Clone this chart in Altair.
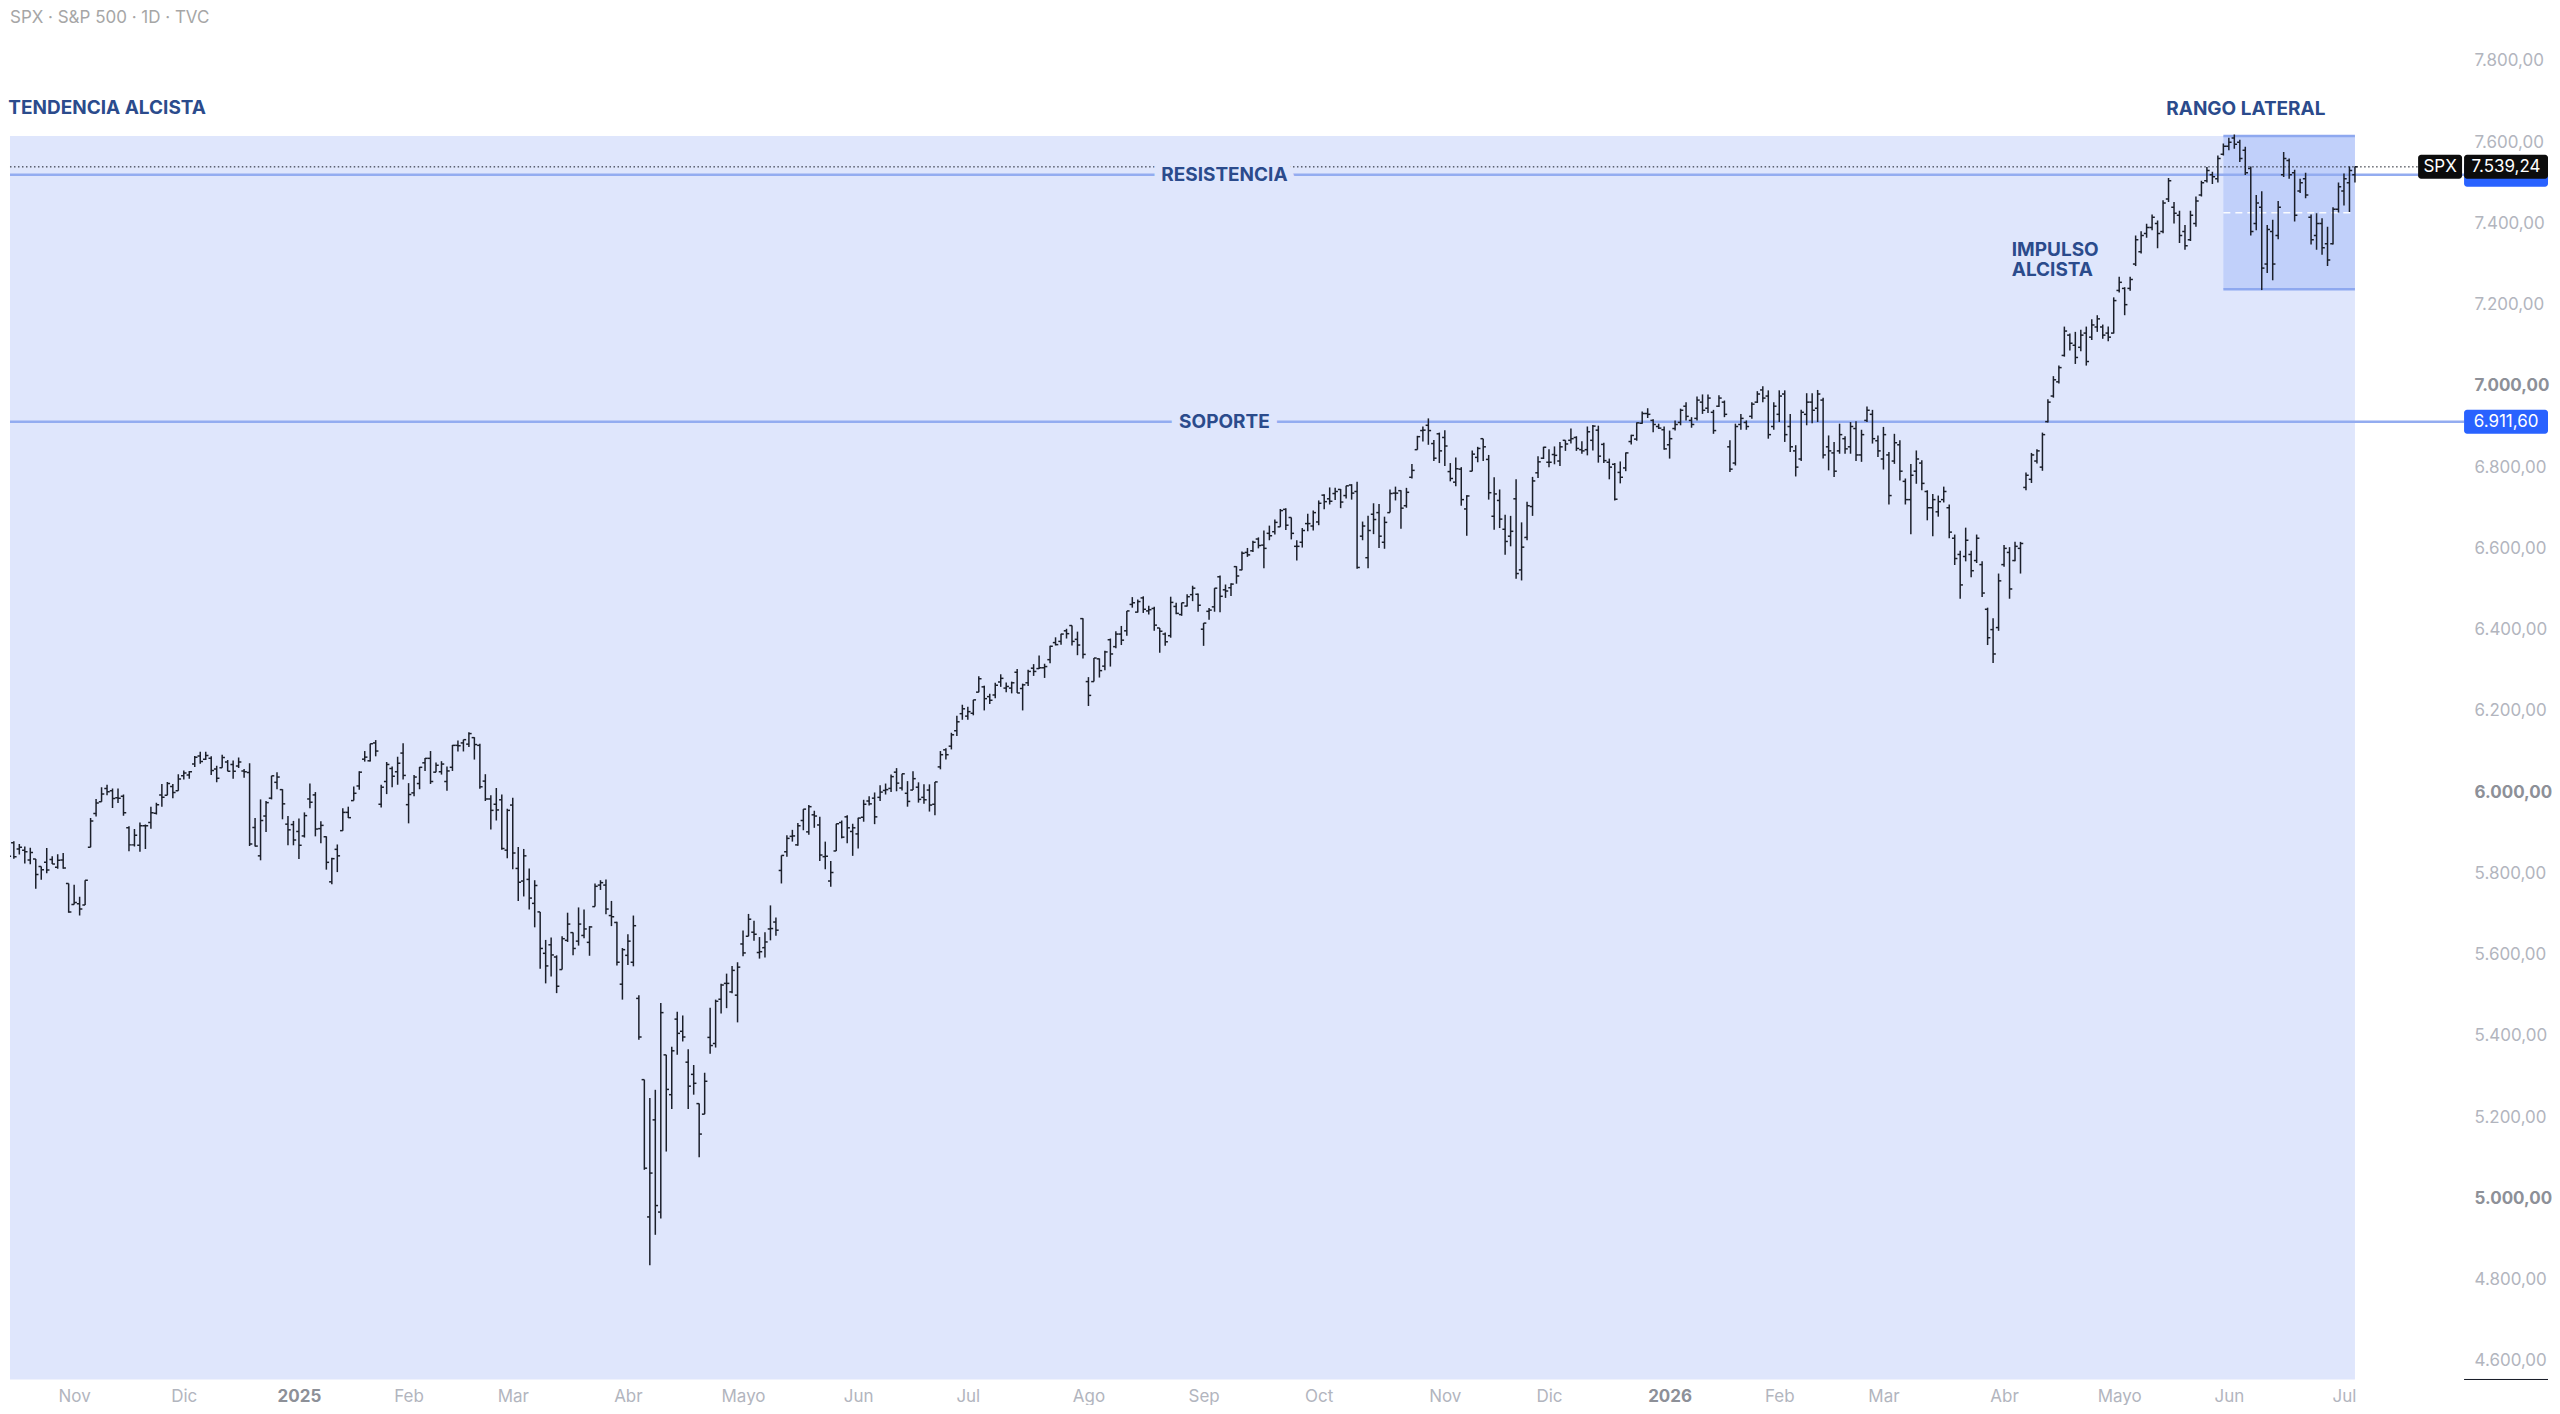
import altair as alt
import pandas as pd

# ---------------- data (daily OHLC, SPX) ----------------
opens = [
    5866, 5816, 5875, 5860, 5857, 5833, 5835, 5817, 5827, 5834, 5815, 5833, 5775,
    5723, 5725, 5722, 5864, 5947, 5976, 6009, 6003, 5986, 5990, 5912, 5870, 5869, 5917, 5925, 5948, 5993, 5992, 6014, 6003,
    6040, 6042, 6069, 6089, 6081, 6083, 6057, 6060, 6074, 6068, 6064, 6052, 6048, 5913, 5843, 5941, 5985, 6024, 6006, 5921, 5920,
    5903, 5892, 5983, 5993, 5910, 5890, 5779, 5859, 5905, 5950, 5979, 6015, 6081, 6077, 6121, 5970, 6026, 6058, 6050, 6096,
    5969, 5998, 6021, 6072, 6083, 6049, 6050, 6026, 6061, 6115, 6121, 6118, 6134, 6115, 6027, 5983, 5970, 5981, 5857,
    5968, 5812, 5781, 5785, 5726, 5705, 5603, 5624, 5594, 5563, 5635, 5654, 5633, 5647, 5630, 5718, 5771, 5771, 5696, 5679, 5527,
    5598, 5581, 5492, 5292, 4954, 5193, 4966, 5353, 5255, 5441, 5411, 5335, 5305, 5233, 5207, 5396, 5381, 5490, 5529, 5508, 5500,
    5626, 5645, 5655, 5605, 5617, 5663, 5680, 5807, 5853, 5891, 5870, 5930, 5902, 5944, 5919, 5841, 5781, 5855, 5925, 5939, 5903,
    5897, 5938, 5978, 5985, 5987, 6004, 6009, 6049, 6010, 5997, 6005, 6012, 5987, 6005, 5970, 6062, 6104, 6113, 6151, 6193,
    6187, 6194, 6246, 6259, 6235, 6239, 6271, 6256, 6256, 6295, 6255, 6269, 6305, 6304, 6306, 6326, 6368, 6371, 6397, 6410, 6376, 6427,
    6272, 6272, 6328, 6310, 6375, 6358, 6389, 6397, 6462, 6443, 6478, 6446, 6452, 6404, 6389, 6385, 6457, 6437, 6458, 6486, 6487,
    6401, 6445, 6456, 6530, 6498, 6503, 6555, 6547, 6590, 6594, 6623, 6608, 6637, 6641, 6653, 6696, 6676, 6605, 6615, 6661, 6655,
    6665, 6731, 6722, 6735, 6745, 6730, 6756, 6740, 6630, 6577, 6684, 6688, 6615, 6688, 6736, 6742, 6705, 6775, 6843, 6890, 6903, 6858, 6882,
    6873, 6789, 6763, 6795, 6697, 6790, 6824, 6870, 6819, 6679, 6718, 6647, 6630, 6722, 6547, 6627, 6703, 6786, 6822,
    6812, 6831, 6815, 6866, 6866, 6873, 6843, 6843, 6866, 6891, 6856, 6812, 6807, 6787, 6798, 6863, 6869, 6908, 6932, 6915, 6900, 6892,
    6855, 6895, 6910, 6950, 6915, 6920, 6960, 6945, 6935, 6950, 6960, 6850, 6810, 6905, 6910, 6925, 6960, 6990, 6975, 6900,
    6930, 6980, 6900, 6840, 6820, 6930, 6960, 6945, 6965, 6850, 6835, 6840, 6870, 6850, 6895, 6830, 6915, 6930, 6865,
    6820, 6830, 6815, 6855, 6765, 6720, 6790, 6810, 6740, 6700, 6690, 6720, 6700, 6625, 6585, 6580, 6585, 6570, 6560, 6450, 6400, 6405,
    6560, 6590, 6570, 6600, 6750, 6770, 6815, 6800, 6912, 6975, 7010, 7075, 7125, 7100, 7095, 7130, 7120, 7145, 7145, 7130, 7130,
    7235, 7240, 7240, 7300, 7330, 7375, 7390, 7400, 7380, 7460, 7440, 7420, 7380, 7360, 7400, 7470, 7505, 7520, 7510, 7570,
    7590, 7610, 7600, 7580, 7535, 7400, 7440, 7300, 7380, 7370, 7520, 7555, 7525, 7480, 7510, 7415, 7370, 7400, 7350, 7350, 7435,
    7480, 7500, 7520,
]
highs = [
    5871, 5846, 5879, 5872, 5866, 5863, 5835, 5817, 5862, 5842, 5847, 5850, 5775,
    5772, 5742, 5783, 5936, 5983, 6012, 6018, 6009, 6009, 5994, 5916, 5909, 5925, 5920, 5964, 5974, 6020, 6025, 6020, 6044,
    6053, 6052, 6089, 6099, 6099, 6088, 6065, 6092, 6079, 6078, 6085, 6057, 6071, 5936, 5982, 5978, 6040, 6049, 6007, 5941, 5929,
    5935, 5950, 6021, 6000, 5928, 5891, 5838, 5871, 5960, 5964, 6014, 6051, 6101, 6119, 6128, 6018, 6074, 6063, 6087, 6120,
    6022, 6042, 6062, 6084, 6101, 6073, 6076, 6063, 6116, 6127, 6129, 6147, 6135, 6119, 6044, 5992, 6010, 5994, 5959,
    5986, 5865, 5860, 5812, 5783, 5705, 5636, 5642, 5598, 5645, 5703, 5654, 5716, 5711, 5670, 5775, 5783, 5785, 5732, 5681, 5616,
    5650, 5696, 5500, 5292, 5247, 5267, 5481, 5353, 5373, 5459, 5450, 5367, 5328, 5233, 5309, 5469, 5489, 5528, 5553, 5572, 5581,
    5659, 5700, 5683, 5643, 5655, 5721, 5691, 5844, 5894, 5907, 5924, 5958, 5968, 5954, 5939, 5878, 5830, 5922, 5930, 5943, 5922,
    5937, 5981, 5990, 5999, 6017, 6021, 6043, 6059, 6045, 6027, 6051, 6024, 6019, 6019, 6025, 6101, 6108, 6146, 6188, 6215,
    6210, 6227, 6285, 6262, 6242, 6269, 6290, 6270, 6272, 6303, 6267, 6301, 6315, 6336, 6316, 6360, 6381, 6390, 6402, 6410, 6395, 6428,
    6283, 6330, 6329, 6348, 6378, 6396, 6409, 6446, 6480, 6474, 6482, 6459, 6456, 6404, 6393, 6481, 6466, 6466, 6487, 6508, 6489,
    6416, 6453, 6502, 6533, 6511, 6514, 6556, 6592, 6601, 6619, 6627, 6644, 6656, 6671, 6697, 6699, 6676, 6620, 6650, 6685, 6693,
    6718, 6733, 6750, 6749, 6746, 6754, 6758, 6764, 6666, 6680, 6711, 6709, 6678, 6745, 6752, 6743, 6749, 6808, 6877, 6900, 6920, 6867, 6885,
    6891, 6810, 6824, 6800, 6731, 6841, 6850, 6870, 6830, 6775, 6745, 6683, 6680, 6770, 6664, 6715, 6776, 6827, 6850,
    6844, 6851, 6862, 6866, 6895, 6876, 6864, 6900, 6904, 6902, 6860, 6821, 6810, 6814, 6836, 6880, 6910, 6937, 6945, 6918, 6907, 6900,
    6890, 6915, 6944, 6960, 6923, 6974, 6979, 6979, 6941, 6977, 6964, 6866, 6907, 6931, 6915, 6960, 6987, 6999, 6989, 6960,
    6989, 6989, 6931, 6854, 6941, 6982, 6982, 6990, 6971, 6878, 6862, 6907, 6876, 6911, 6913, 6892, 6949, 6941, 6878,
    6899, 6837, 6882, 6866, 6772, 6808, 6841, 6817, 6743, 6734, 6730, 6752, 6708, 6634, 6594, 6651, 6594, 6634, 6568, 6454, 6428, 6538,
    6608, 6603, 6616, 6616, 6787, 6835, 6844, 6885, 6967, 7024, 7050, 7146, 7129, 7133, 7138, 7146, 7164, 7174, 7151, 7146, 7218,
    7269, 7243, 7269, 7370, 7381, 7399, 7422, 7407, 7457, 7512, 7453, 7431, 7396, 7431, 7466, 7505, 7539, 7527, 7567, 7597,
    7611, 7619, 7606, 7589, 7540, 7470, 7479, 7396, 7409, 7455, 7576, 7560, 7532, 7510, 7525, 7422, 7425, 7413, 7392, 7440, 7501,
    7523, 7540, 7540,
]
lows = [
    5804, 5809, 5836, 5846, 5824, 5822, 5762, 5784, 5800, 5823, 5811, 5811, 5703,
    5723, 5696, 5722, 5864, 5940, 5976, 5992, 5961, 5973, 5942, 5854, 5866, 5853, 5860, 5910, 5945, 5964, 5992, 5985, 6003,
    6031, 6033, 6062, 6070, 6079, 6042, 6024, 6060, 6051, 6033, 6059, 6035, 5867, 5866, 5832, 5902, 5982, 6007, 5933, 5869, 5869,
    5835, 5888, 5960, 5891, 5874, 5809, 5773, 5803, 5905, 5936, 5979, 6006, 6075, 6075, 6088, 5962, 5995, 6012, 6018, 6031,
    5923, 5990, 6007, 6052, 6020, 6049, 6043, 6003, 6052, 6100, 6100, 6111, 6080, 6008, 5978, 5908, 5930, 5858, 5837,
    5810, 5732, 5743, 5711, 5667, 5565, 5529, 5546, 5505, 5563, 5631, 5598, 5622, 5640, 5597, 5718, 5759, 5699, 5670, 5573, 5489,
    5574, 5571, 5390, 5070, 4835, 4910, 4950, 5115, 5220, 5353, 5386, 5220, 5255, 5101, 5207, 5356, 5371, 5455, 5468, 5505, 5433,
    5596, 5645, 5634, 5590, 5593, 5635, 5646, 5775, 5841, 5878, 5868, 5906, 5895, 5912, 5830, 5810, 5767, 5855, 5886, 5874, 5843,
    5861, 5927, 5967, 5921, 5978, 5994, 6000, 6002, 6004, 5964, 6005, 5974, 5971, 5952, 5943, 6056, 6080, 6105, 6138, 6178,
    6178, 6189, 6246, 6201, 6217, 6231, 6259, 6246, 6243, 6244, 6201, 6261, 6286, 6303, 6281, 6317, 6361, 6363, 6378, 6361, 6337, 6329,
    6212, 6272, 6282, 6300, 6309, 6354, 6362, 6385, 6454, 6442, 6441, 6437, 6397, 6343, 6360, 6380, 6438, 6434, 6457, 6470, 6444,
    6360, 6424, 6444, 6443, 6478, 6483, 6513, 6546, 6579, 6591, 6600, 6551, 6620, 6634, 6653, 6645, 6622, 6570, 6602, 6642, 6644,
    6657, 6696, 6708, 6719, 6699, 6723, 6720, 6550, 6620, 6551, 6635, 6601, 6599, 6688, 6718, 6648, 6700, 6772, 6843, 6863, 6855, 6815, 6810,
    6803, 6765, 6753, 6705, 6631, 6790, 6812, 6815, 6720, 6646, 6650, 6584, 6605, 6525, 6521, 6620, 6680, 6773, 6820,
    6800, 6807, 6803, 6840, 6858, 6840, 6833, 6829, 6841, 6811, 6810, 6770, 6718, 6760, 6790, 6856, 6865, 6907, 6921, 6886, 6894, 6843,
    6821, 6890, 6903, 6915, 6897, 6915, 6931, 6933, 6882, 6948, 6923, 6788, 6804, 6892, 6892, 6919, 6958, 6960, 6870, 6892,
    6911, 6862, 6837, 6777, 6815, 6903, 6908, 6911, 6821, 6792, 6776, 6833, 6833, 6833, 6815, 6813, 6911, 6858, 6825,
    6794, 6708, 6808, 6767, 6708, 6635, 6759, 6743, 6669, 6630, 6678, 6713, 6625, 6559, 6476, 6568, 6529, 6564, 6480, 6362, 6318, 6397,
    6555, 6476, 6568, 6538, 6743, 6761, 6809, 6791, 6910, 6971, 7006, 7072, 7087, 7054, 7085, 7050, 7113, 7133, 7116, 7110, 7129,
    7230, 7174, 7234, 7295, 7326, 7365, 7383, 7339, 7376, 7453, 7400, 7352, 7335, 7357, 7392, 7466, 7501, 7497, 7501, 7567,
    7580, 7584, 7551, 7519, 7370, 7383, 7236, 7278, 7260, 7361, 7514, 7510, 7405, 7475, 7462, 7348, 7335, 7323, 7295, 7348, 7427,
    7444, 7428, 7501,
]
closes = [
    5815, 5842, 5841, 5864, 5853, 5851, 5797, 5809, 5808, 5823, 5832, 5813, 5705,
    5728, 5712, 5783, 5929, 5973, 5995, 6001, 5984, 5985, 5949, 5870, 5894, 5917, 5917, 5949, 5969, 5987, 6021, 5999, 6032,
    6047, 6050, 6086, 6075, 6090, 6053, 6034, 6085, 6051, 6051, 6074, 6050, 5872, 5867, 5930, 5974, 6040, 6037, 5971, 5907, 5882,
    5869, 5942, 5975, 5909, 5918, 5827, 5836, 5843, 5950, 5937, 5997, 6049, 6086, 6119, 6101, 6012, 6068, 6039, 6071, 6041,
    5994, 6037, 6061, 6083, 6026, 6066, 6069, 6052, 6115, 6114, 6129, 6144, 6117, 6013, 5983, 5955, 5956, 5861, 5955,
    5850, 5778, 5843, 5739, 5770, 5615, 5572, 5599, 5522, 5639, 5675, 5615, 5675, 5663, 5668, 5768, 5777, 5712, 5693, 5581, 5612,
    5633, 5671, 5397, 5074, 5062, 4982, 5457, 5268, 5363, 5406, 5397, 5276, 5283, 5158, 5288, 5376, 5485, 5525, 5529, 5561, 5569,
    5604, 5687, 5650, 5607, 5631, 5664, 5660, 5844, 5886, 5892, 5917, 5958, 5964, 5941, 5845, 5842, 5802, 5922, 5889, 5912, 5912,
    5936, 5970, 5971, 5939, 6000, 6006, 6038, 6022, 6045, 5977, 6033, 5982, 5981, 5968, 6025, 6092, 6092, 6141, 6173, 6205,
    6198, 6227, 6279, 6230, 6226, 6263, 6280, 6260, 6269, 6244, 6264, 6297, 6297, 6306, 6309, 6359, 6363, 6389, 6390, 6371, 6362, 6339,
    6238, 6330, 6299, 6345, 6340, 6389, 6374, 6446, 6466, 6469, 6450, 6449, 6411, 6396, 6370, 6467, 6440, 6466, 6481, 6502, 6460,
    6416, 6448, 6502, 6482, 6495, 6512, 6532, 6588, 6584, 6615, 6607, 6600, 6631, 6664, 6693, 6657, 6637, 6605, 6644, 6661, 6688,
    6711, 6715, 6716, 6740, 6714, 6754, 6736, 6553, 6655, 6644, 6671, 6630, 6664, 6735, 6736, 6699, 6738, 6792, 6875, 6891, 6890, 6822, 6840,
    6852, 6772, 6796, 6720, 6729, 6832, 6846, 6850, 6737, 6734, 6672, 6617, 6642, 6538, 6603, 6705, 6766, 6813, 6849,
    6812, 6829, 6850, 6857, 6870, 6846, 6840, 6887, 6901, 6827, 6816, 6800, 6721, 6775, 6835, 6878, 6909, 6932, 6930, 6905, 6896, 6845,
    6870, 6905, 6940, 6925, 6905, 6965, 6940, 6970, 6890, 6970, 6930, 6795, 6900, 6920, 6900, 6955, 6980, 6970, 6880, 6950,
    6975, 6880, 6850, 6800, 6935, 6960, 6940, 6980, 6830, 6840, 6790, 6880, 6845, 6900, 6830, 6880, 6940, 6870, 6840,
    6880, 6730, 6860, 6790, 6720, 6780, 6820, 6760, 6700, 6720, 6715, 6740, 6640, 6575, 6510, 6620, 6545, 6625, 6490, 6380, 6340, 6520,
    6600, 6500, 6605, 6612, 6780, 6830, 6840, 6880, 6960, 7015, 7045, 7135, 7105, 7070, 7125, 7060, 7150, 7165, 7125, 7120, 7210,
    7255, 7200, 7262, 7360, 7370, 7390, 7415, 7375, 7450, 7505, 7425, 7370, 7345, 7420, 7455, 7500, 7530, 7515, 7560, 7590,
    7600, 7595, 7560, 7525, 7380, 7450, 7290, 7385, 7300, 7440, 7560, 7520, 7420, 7500, 7470, 7360, 7400, 7340, 7310, 7435, 7490,
    7510, 7530, 7539.24,
]

FIRST_DAY = "2024-10-15"
HOLIDAYS = [
    "2024-11-28", "2024-12-25", "2025-01-01", "2025-01-09", "2025-01-20", "2025-02-17",
    "2025-04-18", "2025-05-26", "2025-06-19", "2025-07-04", "2025-09-01", "2025-11-27",
    "2025-12-25", "2026-01-01", "2026-01-19", "2026-02-16", "2026-04-03", "2026-05-25",
    "2026-06-19", "2026-07-03",
]
MONTHS_ES = ["Ene", "Feb", "Mar", "Abr", "Mayo", "Jun", "Jul", "Ago", "Sep", "Oct", "Nov", "Dic"]
PRICE_TICKS = [4600, 4800, 5000, 5200, 5400, 5600, 5800, 6000, 6200, 6400, 6600, 6800, 7000, 7200, 7400, 7600, 7800]

TITLE = "SPX · S&P 500 · 1D · TVC"
SUPPORT = 6911.60
RESISTANCE = 7520.0
LAST_PRICE = closes[-1]
TREND_ZONE = {"i0": -5, "i1": 429, "top": 7615, "bottom": 4300}
RANGE_ZONE = {"i0": 405, "i1": 429, "top": 7615, "bottom": 7238}

notes_left = pd.DataFrame({
    "i": [1.0, 366.4, 366.4],
    "p": [7683, 7334, 7285],
    "t": ["TENDENCIA ALCISTA", "IMPULSO", "ALCISTA"],
})
notes_center = pd.DataFrame({"i": [409.1], "p": [7681], "t": ["RANGO LATERAL"]})
line_notes = pd.DataFrame({"i": [222.8, 222.8], "p": [RESISTANCE, SUPPORT], "t": ["RESISTENCIA", "SOPORTE"]})

# ---------------- layout / style ----------------
W, H = 2456, 1372
PPB = 5.487          # px per bar
X0 = 1.3
X1 = X0 + W / PPB
Y1 = 7929
PPU = 0.4065         # px per price unit
Y0 = Y1 - H / PPU

BG_ZONE = "#dfe6fc"
RANGE_FILL = "#c1d0fa"
LINE_BLUE = "#93acf0"
NAVY = "#2b4b8c"
BAR = "#1b1f2a"
FONT = "Inter"


def es_num(v):
    return f"{v:,.2f}".replace(",", "_").replace(".", ",").replace("_", ".")


dates = pd.bdate_range(FIRST_DAY, periods=len(closes), freq="C", holidays=HOLIDAYS)
df = pd.DataFrame({"i": range(len(closes)), "o": opens, "h": highs, "l": lows, "c": closes})

tick_idx, tick_lab, year_idx = [], [], []
for k in range(1, len(dates)):
    if dates[k].month != dates[k - 1].month:
        tick_idx.append(k)
        if dates[k].month == 1:
            tick_lab.append(str(dates[k].year))
            year_idx.append(k)
        else:
            tick_lab.append(MONTHS_ES[dates[k].month - 1])

x_label_expr = "[" + ",".join(f"'{s}'" for s in tick_lab) + "][indexof([" + ",".join(str(v) for v in tick_idx) + "], datum.value)]"
year_test = "indexof([" + ",".join(str(v) for v in year_idx) + "], datum.value) >= 0"

xs = alt.Scale(domain=[X0, X1], nice=False, zero=False)
ys = alt.Scale(domain=[Y0, Y1], nice=False, zero=False)

x_axis = alt.Axis(
    values=tick_idx, labelExpr=x_label_expr, title=None, grid=False, ticks=False, domain=False,
    labelPadding=9, labelFontSize=17, labelFont=FONT, labelOverlap=False, labelFlush=False,
    labelColor={"condition": {"test": year_test, "value": "#8d9098"}, "value": "#b2b5be"},
    labelFontWeight={"condition": {"test": year_test, "value": 700}, "value": 400},
)
y_axis = alt.Axis(
    orient="right", values=PRICE_TICKS, title=None, grid=False, ticks=False, domain=False,
    labelExpr="replace(replace(replace(format(datum.value, ',.2f'), ',', '_'), '.', ','), '_', '.')",
    labelPadding=10, labelFontSize=17, labelFont=FONT, labelOverlap=False, labelAlign="left",
    labelColor={"condition": {"test": "datum.value % 1000 === 0", "value": "#8d9098"}, "value": "#b2b5be"},
    labelFontWeight={"condition": {"test": "datum.value % 1000 === 0", "value": 700}, "value": 400},
)

# background zones
trend = alt.Chart(pd.DataFrame([TREND_ZONE])).mark_rect(color=BG_ZONE, clip=True).encode(
    x=alt.X("i0:Q", scale=xs, axis=x_axis), x2="i1:Q",
    y=alt.Y("bottom:Q", scale=ys, axis=y_axis), y2="top:Q",
)
rng = alt.Chart(pd.DataFrame([RANGE_ZONE])).mark_rect(color=RANGE_FILL, clip=True).encode(
    x=alt.X("i0:Q", scale=xs), x2="i1:Q", y=alt.Y("bottom:Q", scale=ys), y2="top:Q",
)
rng_edges_df = pd.DataFrame({
    "i0": [RANGE_ZONE["i0"]] * 2, "i1": [RANGE_ZONE["i1"]] * 2,
    "p": [RANGE_ZONE["top"], RANGE_ZONE["bottom"]],
})
rng_edges = alt.Chart(rng_edges_df).mark_rule(color="#8ea8ef", strokeWidth=2.5).encode(
    x=alt.X("i0:Q", scale=xs), x2="i1:Q", y=alt.Y("p:Q", scale=ys),
)
rng_mid = alt.Chart(pd.DataFrame([RANGE_ZONE])).transform_calculate(
    mid="(datum.top + datum.bottom) / 2"
).mark_rule(color="white", strokeWidth=1.5, strokeDash=[7, 5], opacity=0.9).encode(
    x=alt.X("i0:Q", scale=xs), x2="i1:Q", y=alt.Y("mid:Q", scale=ys),
)

# horizontal levels
levels = alt.Chart(pd.DataFrame({"p": [RESISTANCE, SUPPORT]})).mark_rule(
    color=LINE_BLUE, strokeWidth=2.5
).encode(y=alt.Y("p:Q", scale=ys), x=alt.value(0), x2=alt.value(W))
last_line = alt.Chart(pd.DataFrame({"p": [LAST_PRICE]})).mark_rule(
    color="#131722", strokeWidth=1, strokeDash=[1.5, 2.5]
).encode(y=alt.Y("p:Q", scale=ys), x=alt.value(0), x2=alt.value(W - 46))

# OHLC bars
base = alt.Chart(df).transform_calculate(xo="datum.i - 0.5", xc="datum.i + 0.5")
hl = base.mark_rule(color=BAR, strokeWidth=1.5, clip=True).encode(
    x=alt.X("i:Q", scale=xs), y=alt.Y("l:Q", scale=ys), y2="h:Q")
op = base.mark_rule(color=BAR, strokeWidth=1.5, clip=True).encode(
    x=alt.X("xo:Q", scale=xs), x2="i:Q", y=alt.Y("o:Q", scale=ys))
cl = base.mark_rule(color=BAR, strokeWidth=1.5, clip=True).encode(
    x=alt.X("i:Q", scale=xs), x2="xc:Q", y=alt.Y("c:Q", scale=ys))

# labels on lines (halo cuts a gap into the line)
halo = alt.Chart(line_notes).mark_text(
    font=FONT, fontSize=19, fontWeight="bold", color=BG_ZONE, stroke=BG_ZONE, strokeWidth=16,
    align="center", baseline="middle",
).encode(x=alt.X("i:Q", scale=xs), y=alt.Y("p:Q", scale=ys), text="t:N")
line_txt = alt.Chart(line_notes).mark_text(
    font=FONT, fontSize=19, fontWeight="bold", color=NAVY, align="center", baseline="middle",
).encode(x=alt.X("i:Q", scale=xs), y=alt.Y("p:Q", scale=ys), text="t:N")

txt_left = alt.Chart(notes_left).mark_text(
    font=FONT, fontSize=19, fontWeight="bold", color=NAVY, align="left", baseline="middle",
).encode(x=alt.X("i:Q", scale=xs), y=alt.Y("p:Q", scale=ys), text="t:N")
txt_center = alt.Chart(notes_center).mark_text(
    font=FONT, fontSize=19, fontWeight="bold", color=NAVY, align="center", baseline="middle",
).encode(x=alt.X("i:Q", scale=xs), y=alt.Y("p:Q", scale=ys), text="t:N")

title = alt.Chart(pd.DataFrame({"t": [TITLE]})).mark_text(
    font=FONT, fontSize=17, color="#a6a6a6", align="left", baseline="middle",
).encode(x=alt.value(0), y=alt.value(9), text="t:N")

# price tags on the axis
half = 12 / PPU
tags = pd.DataFrame({
    "p": [RESISTANCE, LAST_PRICE, SUPPORT],
    "label": ["", es_num(LAST_PRICE), es_num(SUPPORT)],
    "fill": ["#2962ff", "#0c0c0c", "#2962ff"],
})
tags["lo"] = tags["p"] - half
tags["hi"] = tags["p"] + half
tag_box = alt.Chart(tags).mark_rect(cornerRadius=3).encode(
    x=alt.value(W), x2=alt.value(W + 84),
    y=alt.Y("lo:Q", scale=ys), y2="hi:Q", color=alt.Color("fill:N", scale=None),
)
tag_txt = alt.Chart(tags).mark_text(
    font=FONT, fontSize=17, color="white", align="center", baseline="middle",
).encode(x=alt.value(W + 42), y=alt.Y("p:Q", scale=ys), text="label:N")

spx = pd.DataFrame({"p": [LAST_PRICE], "t": ["SPX"]})
spx["lo"] = spx["p"] - half
spx["hi"] = spx["p"] + half
spx_box = alt.Chart(spx).mark_rect(cornerRadius=3, color="#0c0c0c").encode(
    x=alt.value(W - 46), x2=alt.value(W - 2), y=alt.Y("lo:Q", scale=ys), y2="hi:Q")
spx_txt = alt.Chart(spx).mark_text(
    font=FONT, fontSize=17, color="white", align="center", baseline="middle",
).encode(x=alt.value(W - 24), y=alt.Y("p:Q", scale=ys), text="t:N")

sep = alt.Chart(pd.DataFrame({"k": [0]})).mark_rule(color="#131722", strokeWidth=1).encode(
    x=alt.value(W), x2=alt.value(W + 84), y=alt.value(H))

chart = alt.layer(
    trend, rng, rng_mid, rng_edges, levels, last_line, hl, op, cl,
    halo, line_txt, txt_left, txt_center, title,
    tag_box, tag_txt, spx_box, spx_txt, sep,
).properties(
    width=W, height=H, padding=0, background="white"
).configure_view(strokeWidth=0)

chart.save("out.html", embed_options={"renderer": "svg", "actions": False})
